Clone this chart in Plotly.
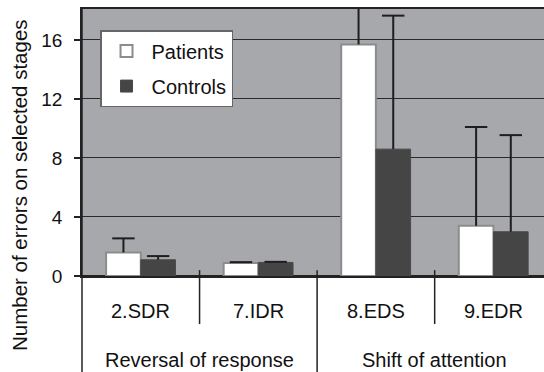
import plotly.graph_objects as go

stages = ["2.SDR", "7.IDR", "8.EDS", "9.EDR"]
groups = ["Reversal of response", "Shift of attention"]
patients = [1.6, 0.88, 15.7, 3.4]
patients_err = [0.95, 0.06, 4.0, 6.7]
controls = [1.1, 0.92, 8.6, 3.0]
controls_err = [0.25, 0.04, 9.05, 6.55]
yticks = [0, 4, 8, 12, 16]

xpos = list(range(len(stages)))
font = "Liberation Sans, Arial, sans-serif"
bargap = 0.41
half = (1 - bargap) / 4  # offset of each bar centre from the category centre

fig = go.Figure()
fig.add_trace(go.Bar(
    x=xpos, y=patients, name="Patients",
    marker=dict(color="white", line=dict(color="#8c8c8c", width=2)),
    error_y=dict(type="data", array=patients_err, arrayminus=[0]*4, symmetric=False,
                 color="#1e1e1e", thickness=2, width=0),
    legendgroup="a",
))
fig.add_trace(go.Bar(
    x=xpos, y=controls, name="Controls",
    marker=dict(color="#454545", line=dict(color="#4a4a4a", width=1)),
    error_y=dict(type="data", array=controls_err, arrayminus=[0]*4, symmetric=False,
                 color="#1e1e1e", thickness=2, width=0),
    legendgroup="b",
))
cap_x = [x - half for x in xpos] + [x + half for x in xpos]
cap_y = [v + e for v, e in zip(patients, patients_err)] + [v + e for v, e in zip(controls, controls_err)]
fig.add_trace(go.Scatter(
    x=cap_x, y=cap_y, mode="markers", showlegend=False, hoverinfo="skip",
    marker=dict(symbol="line-ew", size=16, line=dict(color="#1e1e1e", width=2)),
))

shapes = []
for xv, ybot in [(0.5, -0.18), (1.5, -0.37), (2.5, -0.18)]:
    shapes.append(dict(type="line", xref="x", yref="paper", x0=xv, x1=xv, y0=0.022, y1=ybot,
                       line=dict(color="#222", width=1.5)))
shapes.append(dict(type="line", xref="paper", yref="paper", x0=0, x1=0, y0=1, y1=-0.37,
                   line=dict(color="#222", width=1.5)))

annotations = []
for i, s in enumerate(stages):
    annotations.append(dict(x=i, y=-0.131, xref="x", yref="paper", text=s, showarrow=False,
                            font=dict(size=20, color="#111", family=font), yanchor="middle"))
for gx, g in zip([0.5, 2.5], groups):
    annotations.append(dict(x=gx, y=-0.315, xref="x", yref="paper", text=g, showarrow=False,
                            font=dict(size=20, color="#111", family=font), yanchor="middle"))
annotations.append(dict(x=-0.134, y=0.341, xref="paper", yref="paper",
                        text="Number of errors on selected stages", showarrow=False, textangle=-90,
                        font=dict(size=20.5, color="#111", family=font),
                        xanchor="center", yanchor="middle"))

fig.update_layout(
    width=544, height=372,
    margin=dict(l=82, r=0, t=9, b=96),
    paper_bgcolor="white", plot_bgcolor="#a7a8ac",
    barmode="group", bargap=bargap, bargroupgap=0,
    font=dict(family=font, size=20, color="#111"),
    showlegend=True,
    legend=dict(x=0.039, y=0.921, xanchor="left", yanchor="top",
                bgcolor="white", bordercolor="#666", borderwidth=1.5,
                font=dict(size=20, family=font, color="#111"),
                traceorder="grouped", tracegroupgap=6, itemwidth=40,
                entrywidth=115, entrywidthmode="pixels"),
    shapes=shapes, annotations=annotations,
    xaxis=dict(range=[-0.5, 3.43], tickvals=[], showgrid=False, zeroline=False,
               showline=True, mirror=True, linecolor="#222", linewidth=1.5, fixedrange=True),
    yaxis=dict(range=[0, 18.1], tickvals=yticks, showgrid=True, gridcolor="#2a2a2a", gridwidth=1,
               zeroline=True, zerolinecolor="#222", zerolinewidth=1.5,
               showline=True, linecolor="#222", linewidth=1.5,
               ticks="outside", ticklen=6, tickcolor="#222", tickwidth=1.5,
               ticklabelstandoff=8,
               tickfont=dict(size=19, family=font, color="#111"), fixedrange=True),
)

fig.write_html("out.html", config={"displayModeBar": False},
               post_script="document.body.style.margin='0';")
